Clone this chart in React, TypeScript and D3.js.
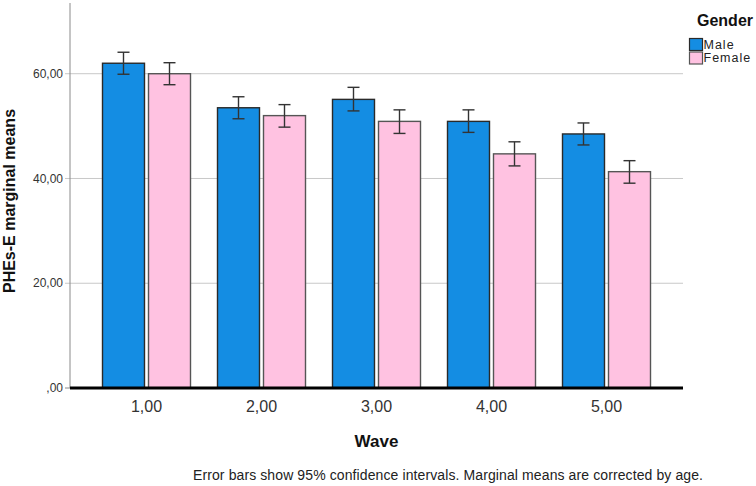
import React from "react";
import * as d3 from "d3";

const waves = ["1,00", "2,00", "3,00", "4,00", "5,00"];
const genders = ["Male", "Female"];
const maleMeans = [62.0, 53.5, 55.1, 50.9, 48.5];
const maleLow = [59.9, 51.4, 52.9, 48.8, 46.4];
const maleHigh = [64.1, 55.6, 57.4, 53.1, 50.6];
const femaleMeans = [60.0, 52.0, 50.9, 44.7, 41.3];
const femaleLow = [57.9, 49.8, 48.6, 42.4, 39.1];
const femaleHigh = [62.1, 54.1, 53.1, 47.0, 43.4];
const yTicks = [0, 20, 40, 60];
const yTickLabels = [",00", "20,00", "40,00", "60,00"];

const colors: Record<string, string> = { Male: "#148de3", Female: "#ffc2e1" };
const strokes: Record<string, string> = { Male: "#2a2a2a", Female: "#555555" };
const FONT = "'Liberation Sans', Arial, sans-serif";

export default function App() {
  const W = 756, H = 486;
  const left = 70, right = 683, top = 3, bottom = 388;
  const y = d3.scaleLinear().domain([0, 73.5]).range([bottom, top]);
  const x = d3.scaleBand<string>().domain(waves).range([left, right]).paddingInner(0.2348).paddingOuter(0.2826);
  const xs = d3.scaleBand<string>().domain(genders).range([0, x.bandwidth()]).paddingInner(0.087);

  const series = [
    { g: "Male", m: maleMeans, lo: maleLow, hi: maleHigh },
    { g: "Female", m: femaleMeans, lo: femaleLow, hi: femaleHigh },
  ];
  const cap = 6;

  return (
    <svg width={W} height={H} style={{ position: "absolute", left: 0, top: 0, background: "#fff" }} fontFamily={FONT}>
      {/* gridlines */}
      {yTicks.filter((t) => t > 0).map((t) => (
        <line key={t} x1={left - 5} x2={right} y1={y(t)} y2={y(t)} stroke="#c8c8c8" strokeWidth={1} />
      ))}
      <line x1={left - 5} x2={left} y1={y(0)} y2={y(0)} stroke="#888" strokeWidth={1} />
      {/* y axis line */}
      <line x1={left} x2={left} y1={top} y2={bottom} stroke="#8a8a8a" strokeWidth={1} />
      {yTicks.map((t, i) => (
        <text key={t} x={63} y={y(t)} dy="0.35em" textAnchor="end" fontSize={12} fill="#333">
          {yTickLabels[i]}
        </text>
      ))}
      {/* bars */}
      {series.map((s) =>
        waves.map((w, i) => {
          const bx = (x(w) as number) + (xs(s.g) as number);
          const bw = xs.bandwidth();
          return (
            <rect key={s.g + w} x={bx} y={y(s.m[i])} width={bw} height={y(0) - y(s.m[i])}
              fill={colors[s.g]} stroke={strokes[s.g]} strokeWidth={1.4} />
          );
        })
      )}
      {/* error bars */}
      {series.map((s) =>
        waves.map((w, i) => {
          const cx = (x(w) as number) + (xs(s.g) as number) + xs.bandwidth() / 2;
          return (
            <g key={"e" + s.g + w} stroke="#333" strokeWidth={1.4}>
              <line x1={cx} x2={cx} y1={y(s.lo[i])} y2={y(s.hi[i])} />
              <line x1={cx - cap} x2={cx + cap} y1={y(s.hi[i])} y2={y(s.hi[i])} />
              <line x1={cx - cap} x2={cx + cap} y1={y(s.lo[i])} y2={y(s.lo[i])} />
            </g>
          );
        })
      )}
      {/* baseline */}
      <line x1={left} x2={right} y1={bottom} y2={bottom} stroke="#000" strokeWidth={3} />
      {/* x labels */}
      {waves.map((w) => (
        <text key={w} x={(x(w) as number) + x.bandwidth() / 2} y={412} textAnchor="middle" fontSize={16} fill="#333">
          {w}
        </text>
      ))}
      <text x={(left + right) / 2} y={447} textAnchor="middle" fontSize={17} fontWeight="bold" fill="#111">Wave</text>
      <text transform={`translate(15,201) rotate(-90)`} textAnchor="middle" fontSize={16} fontWeight="bold" fill="#111">
        PHEs-E marginal means
      </text>
      <text x={193} y={480} fontSize={14} fill="#222" textLength={510} lengthAdjust="spacing">
        Error bars show 95% confidence intervals. Marginal means are corrected by age.
      </text>
      {/* legend */}
      <text x={697} y={26} fontSize={16} fontWeight="bold" fill="#111">Gender</text>
      {genders.map((g, i) => (
        <g key={g}>
          <rect x={689.5} y={38.5 + i * 13.5} width={13} height={12} fill={colors[g]} stroke={strokes[g]} strokeWidth={1.2} />
          <text x={703.5} y={48.8 + i * 13.5} fontSize={12.5} letterSpacing={1} fill="#222">{g}</text>
        </g>
      ))}
    </svg>
  );
}
